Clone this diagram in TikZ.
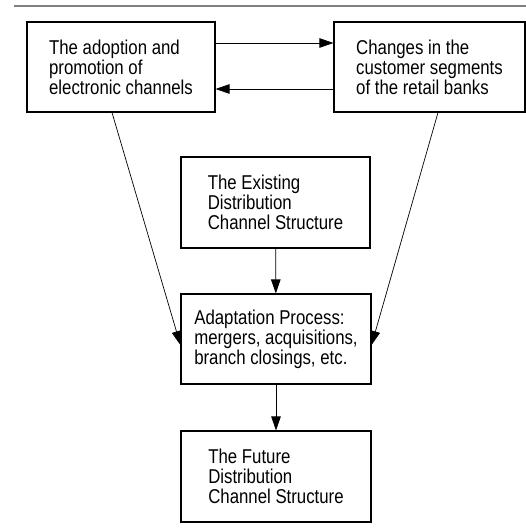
\documentclass[tikz,border=0pt]{standalone}
\usepackage{fontspec}
\setmainfont{Liberation Sans}[FakeStretch=0.84]
\usetikzlibrary{arrows.meta}

\begin{document}
\begin{tikzpicture}[->,>={Triangle[length=14pt,width=9.5pt]},x=1pt,y=-1pt,line width=0.7pt,
    main node/.style={draw,line width=1.1pt,-,align=left,inner sep=0pt,font=\fontsize{20}{20}\selectfont}]

            \useasboundingbox (0,0) rectangle (526,529);
            \draw[-,line width=2pt,gray] (14,6) -- (526,6);

            \node[main node, minimum width=188pt, minimum height=90pt] (1) at (121,67) {The adoption and\\promotion of\\electronic channels};
            \node[main node, minimum width=191pt, minimum height=90pt] (2) at (429.5,67) {Changes in the\\customer segments\\of the retail banks};
            \node[main node, minimum width=189pt, minimum height=91pt] (3) at (275.5,202.5) {The Existing\\Distribution\\Channel Structure};
            \node[main node, minimum width=190pt, minimum height=90pt] (4) at (276,339) {Adaptation Process:\\mergers, acquisitions,\\branch closings, etc.};
            \node[main node, minimum width=190pt, minimum height=91pt] (5) at (276,476.5) {The Future\\Distribution\\Channel Structure};

            \draw ([yshift=24pt]1.east) to ([yshift=24pt]2.west);
            \draw ([yshift=-22pt]2.west) to ([yshift=-22pt]1.east);
            \draw ([xshift=-9pt]1.south) to ([yshift=-6pt]4.west);
            \draw ([xshift=8.5pt]2.south) to ([yshift=-6pt]4.east);
            \draw (3) to (4);
            \draw (4) to (5);

        \end{tikzpicture}
\end{document}
